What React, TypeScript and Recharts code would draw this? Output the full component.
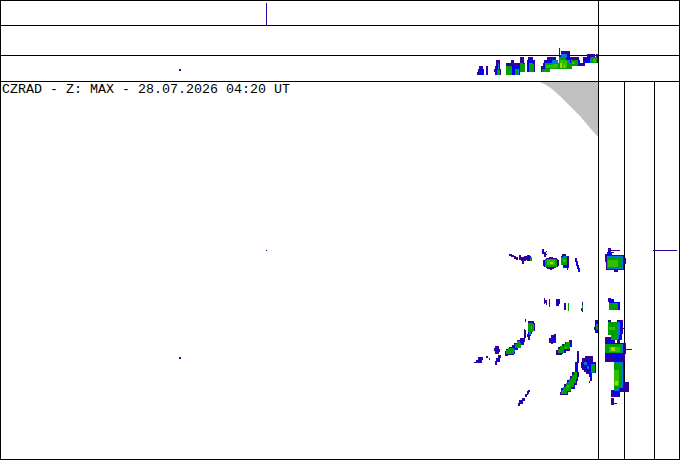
import { ComposedChart, Area, Scatter, XAxis, YAxis, ReferenceLine } from 'recharts';

type Span = [number, number, number, number];

const title = 'CZRAD - Z: MAX - 28.07.2026 04:20 UT';

// panel frame
const frameRows = [0.5, 25.5, 55.5, 81.5, 459.5];
const frameCols = [0.5, 598.5, 679.5];
const stripCols = [624.5, 654.5];

// beam limit, grey corner of the main panel
const outOfRange = [
  { x: 540, y: 82 }, { x: 546, y: 85 }, { x: 552, y: 89 }, { x: 560, y: 96 }, { x: 570, y: 106 },
  { x: 580, y: 116 }, { x: 590, y: 128 }, { x: 598, y: 137 },
];

// echo cells, one list per reflectivity step, x / y / w / h on the 680x460 grid
const levelPurple: Span[] = [
  // single cell echoes
  [266, 3, 1, 22], [653, 250, 24, 1], [266, 250, 1, 1], [179, 69, 2, 2], [179, 357, 2, 2],
  // top strip
  [479, 66, 4, 3], [478, 69, 6, 3], [477, 72, 7, 3], [486, 66, 2, 9], [496, 60, 4, 6], [495, 66, 5, 3], [494, 69, 7, 3], [495, 72, 6, 3],
  [506, 63, 19, 3], [511, 60, 3, 3], [520, 57, 4, 6], [518, 66, 3, 6], [506, 66, 14, 9], [528, 57, 5, 3], [527, 60, 8, 12], [541, 66, 5, 6],
  [547, 57, 9, 3], [544, 60, 14, 3], [543, 63, 17, 6], [541, 69, 9, 3], [559, 48, 1, 9], [561, 51, 9, 6], [570, 57, 9, 3], [570, 60, 10, 6], [580, 63, 5, 3], [587, 54, 8, 3], [583, 57, 15, 6], [596, 54, 2, 3],
  // wisps
  [509, 254, 3, 2], [511, 255, 3, 2], [514, 256, 2, 3], [516, 257, 2, 3], [519, 255, 2, 5], [521, 257, 5, 4], [524, 256, 3, 4],
  [527, 255, 3, 6], [522, 261, 2, 3], [542, 249, 2, 5], [544, 252, 2, 5], [546, 251, 1, 1], [546, 254, 1, 1],
  [549, 257, 4, 1], [546, 258, 11, 1], [545, 259, 13, 1], [543, 260, 16, 6], [544, 266, 14, 1], [546, 267, 10, 1], [547, 268, 7, 1], [550, 269, 2, 1],
  [562, 254, 4, 2], [561, 256, 8, 9], [563, 265, 6, 3], [567, 268, 1, 2],
  [575, 258, 2, 4], [576, 262, 2, 4], [577, 265, 2, 4], [578, 268, 2, 4],
  [544, 298, 1, 6], [546, 300, 1, 5], [549, 299, 1, 8], [556, 299, 3, 7], [559, 299, 1, 5], [564, 303, 2, 7], [581, 308, 1, 3], [582, 302, 1, 10],
  [525, 319, 1, 3], [528, 321, 6, 2], [528, 323, 7, 8], [524, 329, 1, 1], [594, 327, 1, 3], [595, 320, 3, 13], [528, 331, 4, 3],
  [527, 334, 3, 3], [528, 337, 2, 3], [505, 351, 3, 5], [506, 349, 8, 6], [509, 347, 6, 7], [512, 345, 6, 5], [514, 343, 7, 5], [517, 340, 7, 5],
  [520, 338, 5, 4], [524, 330, 2, 8], [494, 348, 1, 3], [495, 346, 4, 8], [499, 349, 1, 3],
  [495, 361, 2, 4], [496, 358, 3, 4], [498, 355, 3, 3], [474, 362, 2, 1], [476, 360, 6, 3], [478, 357, 5, 3], [486, 356, 2, 2], [489, 358, 1, 2],
  [549, 338, 7, 5], [551, 335, 5, 3], [554, 334, 2, 2], [551, 343, 2, 1],
  [556, 350, 6, 5], [558, 347, 8, 6], [562, 344, 8, 7], [565, 342, 7, 5], [569, 340, 3, 4],
  [560, 392, 8, 3], [561, 388, 10, 4], [564, 384, 11, 5], [567, 380, 10, 5], [570, 376, 8, 5], [572, 372, 7, 5],
  [575, 362, 3, 10], [577, 351, 2, 12],
  [581, 362, 3, 6], [582, 358, 8, 12], [585, 356, 5, 2], [584, 370, 6, 2], [590, 356, 3, 6], [589, 362, 7, 11], [589, 373, 3, 4], [590, 377, 2, 4], [589, 381, 1, 2], [586, 372, 3, 2],
  [518, 403, 2, 3], [519, 400, 4, 4], [522, 398, 3, 3], [525, 394, 2, 3], [527, 391, 2, 3], [528, 390, 2, 2],
  // strip beside the main panel
  [608, 248, 3, 3], [611, 250, 9, 1], [611, 252, 3, 1], [607, 252, 5, 3], [605, 254, 3, 8], [606, 255, 18, 15], [614, 270, 4, 2], [623, 258, 3, 6],
  [608, 298, 3, 2], [608, 300, 6, 2], [609, 302, 11, 8],
  [608, 320, 3, 3], [617, 320, 6, 2], [608, 322, 15, 12], [622, 328, 3, 1], [611, 334, 11, 6], [605, 337, 6, 3], [605, 340, 10, 3], [617, 340, 3, 3],
  [605, 343, 21, 11], [623, 349, 9, 1], [605, 354, 20, 8], [614, 362, 10, 20], [614, 382, 15, 10], [611, 390, 9, 7], [611, 398, 3, 7], [614, 403, 3, 1],
];

const levelBlue: Span[] = [
  [480, 69, 3, 6], [497, 63, 3, 12], [496, 69, 4, 6], [507, 66, 13, 9], [519, 63, 5, 9], [528, 60, 6, 12], [543, 66, 7, 6], [546, 60, 12, 9],
  [559, 55, 11, 14], [570, 60, 9, 6], [584, 60, 14, 3], [589, 57, 7, 3],
  [529, 256, 2, 5], [542, 250, 2, 3], [545, 259, 12, 8], [544, 260, 14, 6], [562, 256, 6, 9], [564, 265, 4, 2], [576, 261, 2, 4], [577, 264, 1, 4], [578, 268, 1, 3],
  [545, 300, 1, 3], [557, 301, 2, 4], [565, 304, 1, 5], [529, 323, 5, 8], [528, 331, 3, 5], [507, 350, 7, 4], [510, 348, 5, 5], [513, 345, 5, 4], [515, 343, 6, 4], [518, 341, 5, 3], [521, 339, 3, 3],
  [496, 349, 2, 3], [498, 358, 2, 4], [477, 360, 4, 2], [552, 337, 3, 5], [557, 350, 6, 4], [559, 347, 6, 6], [563, 345, 7, 5], [566, 343, 5, 4],
  [561, 392, 6, 2], [562, 388, 8, 4], [565, 385, 9, 4], [568, 381, 8, 4], [571, 377, 6, 4], [573, 373, 5, 4], [576, 364, 1, 8], [577, 355, 1, 9],
  [586, 364, 3, 6], [587, 360, 2, 4], [590, 363, 6, 10], [590, 373, 1, 4],
  [520, 401, 3, 2], [527, 393, 1, 2],
  [596, 322, 2, 10], [607, 256, 16, 14], [608, 251, 3, 4], [610, 299, 4, 3], [610, 302, 9, 8],
  [609, 322, 13, 12], [612, 334, 9, 6], [607, 340, 7, 3], [606, 343, 18, 11], [606, 354, 3, 3], [612, 354, 9, 3], [615, 357, 5, 4], [614, 362, 9, 22], [614, 384, 9, 6], [613, 390, 6, 5],
];

const levelSky: Span[] = [
  [498, 63, 1, 12], [497, 70, 3, 5], [508, 66, 4, 3], [515, 69, 4, 6], [520, 63, 3, 8], [529, 63, 4, 3], [552, 60, 6, 3], [561, 54, 6, 3], [566, 60, 4, 6], [572, 60, 5, 3], [590, 58, 5, 5],
  [546, 259, 9, 8], [545, 261, 12, 4], [563, 256, 4, 9], [530, 257, 1, 3], [529, 324, 5, 7], [529, 331, 2, 4], [508, 351, 5, 3], [511, 349, 4, 3], [515, 345, 4, 3], [518, 343, 3, 3],
  [558, 349, 5, 4], [560, 347, 3, 2], [565, 345, 4, 4], [562, 390, 5, 3], [565, 386, 6, 4], [568, 382, 6, 4], [571, 378, 5, 4], [574, 374, 3, 4], [591, 364, 4, 9], [584, 362, 3, 3], [587, 366, 2, 3],
  [596, 324, 2, 6], [607, 256, 16, 13], [611, 303, 7, 7], [608, 322, 12, 13], [612, 334, 7, 5], [606, 344, 17, 9], [614, 362, 9, 26], [614, 387, 5, 4],
];

const levelGreen: Span[] = [
  [497, 70, 2, 5], [506, 66, 6, 9], [515, 70, 2, 5], [520, 64, 5, 8], [529, 64, 5, 8], [542, 69, 8, 3], [545, 63, 15, 6], [559, 57, 7, 12], [566, 63, 6, 6], [571, 60, 7, 6], [591, 57, 6, 6],
  [530, 257, 2, 4], [545, 259, 12, 8], [561, 257, 6, 8], [568, 303, 1, 8], [582, 305, 1, 5], [528, 323, 5, 9], [530, 332, 1, 2],
  [506, 350, 8, 4], [508, 348, 6, 3], [515, 344, 6, 4], [517, 341, 3, 4], [558, 349, 6, 4], [560, 346, 4, 4], [564, 344, 6, 5], [566, 342, 4, 3],
  [561, 391, 6, 3], [563, 387, 8, 4], [566, 383, 8, 4], [569, 379, 7, 4], [572, 375, 5, 4], [574, 372, 3, 3], [592, 365, 3, 7], [596, 325, 1, 5],
  [608, 257, 14, 11], [609, 303, 8, 7], [608, 322, 10, 13], [611, 335, 7, 5], [605, 344, 17, 9], [614, 363, 7, 24], [614, 387, 4, 3],
];

const levelBright: Span[] = [
  [546, 65, 8, 3], [553, 64, 5, 4], [560, 60, 7, 8], [572, 62, 3, 2], [593, 59, 3, 3], [547, 260, 8, 5], [563, 259, 3, 3],
  [531, 326, 1, 3], [608, 260, 10, 7], [609, 327, 6, 3], [609, 347, 11, 5], [614, 370, 5, 16], [567, 385, 2, 3], [565, 347, 2, 2],
];

const levelYellow: Span[] = [[560, 63, 2, 5], [564, 65, 1, 3], [550, 262, 3, 2], [611, 347, 4, 4], [615, 381, 3, 4]];

const echoLevels = [
  { name: 'lvl0', color: '#34009c', spans: levelPurple },
  { name: 'lvl1', color: '#0000fc', spans: levelBlue },
  { name: 'lvl2', color: '#0078e0', spans: levelSky },
  { name: 'lvl3', color: '#00a000', spans: levelGreen },
  { name: 'lvl4', color: '#30c000', spans: levelBright },
  { name: 'lvl5', color: '#b0d400', spans: levelYellow },
];

const toCells = (spans: Span[]) => spans.map(([x, y, w, h]) => ({ x, y, w, h }));

const CellShape = (props: any) => {
  const { cx, cy, payload, fill } = props;
  return <rect x={cx} y={cy} width={payload.w} height={payload.h} fill={fill} shapeRendering="crispEdges" />;
};

export default function App() {
  return (
    <div style={{ position: 'absolute', left: 0, top: 0, width: 680, height: 460 }}>
      <style>{'body{margin:0;background:#fff}'}</style>
      <ComposedChart width={680} height={460} data={outOfRange} margin={{ top: 0, right: 0, bottom: 0, left: 0 }}>
        <XAxis dataKey="x" type="number" domain={[0, 680]} hide allowDataOverflow />
        <YAxis type="number" domain={[0, 460]} reversed hide allowDataOverflow width={0} />
        <Area dataKey="y" type="linear" baseValue={82} stroke="none" fill="#c0c0c0" fillOpacity={1} dot={false} activeDot={false} isAnimationActive={false} />
        {frameRows.map((y) => (
          <ReferenceLine key={`row-${y}`} y={y} stroke="#000" strokeWidth={1} shapeRendering="crispEdges" />
        ))}
        {frameCols.map((x) => (
          <ReferenceLine key={`col-${x}`} x={x} stroke="#000" strokeWidth={1} shapeRendering="crispEdges" />
        ))}
        {stripCols.map((x) => (
          <ReferenceLine key={`strip-${x}`} segment={[{ x, y: 81 }, { x, y: 460 }]} stroke="#000" strokeWidth={1} shapeRendering="crispEdges" />
        ))}
        {echoLevels.map((level) => (
          <Scatter
            key={level.name}
            name={level.name}
            data={toCells(level.spans)}
            dataKey="y"
            fill={level.color}
            shape={CellShape}
            isAnimationActive={false}
          />
        ))}
        <text x={2} y={93} fontFamily="'Liberation Mono', monospace" fontSize={13.33} fill="#000">
          {title}
        </text>
      </ComposedChart>
    </div>
  );
}
